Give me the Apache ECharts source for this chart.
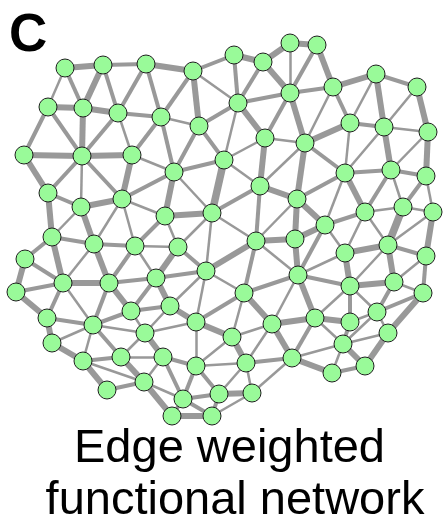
<!DOCTYPE html>
<html>
<head>
<meta charset="utf-8">
<script src="https://cdn.jsdelivr.net/npm/echarts@6/dist/echarts.min.js"></script>
<style>html,body{margin:0;padding:0;background:#fff}#c{width:443px;height:528px}</style>
</head>
<body>
<div id="c"></div>
<script>
// node names and pixel-space positions (x, y)
const nodeNames = ['A1','A2','A3','A4','A5','A6','A7','A8','A9','A10','A11',
 'B1','B2','B3','B4','B5','B6','B7','B8','B9','B10','B11','B12',
 'C1','C2','C3','C4','C5','C6','C7','C8','C9','C10',
 'D1','D2','D3','D4','D5','D6','D7','D8','D9',
 'E1','E2','E3','E4','E5','E6','E7','E8','E9',
 'F1','F2','F3','F4','F5','F6','F7','F8','F9','F10','F11',
 'G1','G2','G3','G4','G5','G6','G7','G8','G9','G10','G11','G12',
 'H1','H2','H3','H4','H5','H6','H7','H8','H9','H10',
 'I1','I2','I3','I4','I5','I6','I7'];
const nodeX = [65,103,146,193,234,263,290,317,333,376,417,
 48,83,118,161,199,238,290,350,384,428,265,305,
 24,82,132,174,224,260,297,345,391,426,
 48,81,122,165,212,365,403,433,325,
 52,94,135,178,256,295,388,345,426,
 25,63,109,16,156,206,298,350,394,423,244,
 47,93,131,145,170,196,232,272,315,350,377,388,
 52,83,121,163,196,246,292,343,332,365,
 107,144,183,219,252,172,212];
const nodeY = [68,65,64,71,55,62,43,45,87,74,87,
 107,108,113,117,126,103,93,123,127,132,138,143,
 155,156,155,172,160,186,199,173,170,176,
 193,207,199,216,213,212,207,212,225,
 237,244,246,247,241,239,245,253,256,
 259,283,283,292,278,271,275,286,282,293,293,
 318,325,311,333,306,322,337,324,318,322,312,333,
 343,361,357,357,366,363,358,344,373,366,
 390,382,399,394,393,416,416];
// edges: source, target, weight class (1 thin .. 4 very thick)
const edges = [
 ['A1','A2',3],['A2','A3',2],['A1','B1',1],['A1','B2',2],['A2','B2',3],['A2','B3',2],['A3','B3',2],['A3','A4',3],['A3','B4',2],
 ['B1','B2',3],['B2','B3',3],['B3','B4',2],['B1','C1',2],['B1','C2',2],['B2','C2',3],['B3','C2',2],['B3','C3',1],['C1','C2',3],['C2','C3',3],['C3','B4',2],
 ['A4','A5',2],['A5','A6',3],['A6','A7',3],['A5','B6',2],['A4','B5',3],['A4','B4',2],['A4','B6',1],['A6','B6',2],['A6','B7',3],['A7','B7',1],
 ['B6','B7',2],['B4','B5',1],['B5','B6',2],['B6','C5',1],['B6','B11',3],['B5','C5',2],['B5','C4',2],['B4','C4',2],['B11','C5',1],['B11','C6',3],['B11','B12',1],['B7','B11',2],['B7','B12',3],
 ['A7','A8',3],['A8','A9',3],['A8','B7',2],['A9','B7',2],['A9','A10',3],['A10','A11',2],['A11','B10',3],['A10','B9',3],['A10','B8',1],['A11','B9',1],
 ['A9','B8',2],['B8','B9',2],['B9','B10',1],['B8','B12',3],['A9','B12',1],['B12','C8',2],['B8','C8',1],['B9','C8',1],['B9','C9',3],['B10','C9',1],['B10','C10',3],['B12','C7',3],
 ['C1','D1',3],['C2','D1',2],['C2','D2',1],['C2','D3',2],['C3','D3',3],['D1','D2',2],['D2','D3',3],['D1','E1',3],['D2','E1',1],['D2','E2',3],['D3','E2',1],['D3','E3',1],
 ['D3','C4',2],['D3','D4',1],['C3','C4',1],['E1','E2',2],['E2','E3',2],['E1','F1',2],['E1','F2',3],['E2','F2',1],['E2','F3',3],['E3','F3',2],
 ['F1','F2',2],['F1','F4',3],['F2','F3',3],['F2','F4',2],['F3','F5',2],['E3','D4',2],['E3','F5',1],
 ['C4','C5',2],['C4','D4',3],['C4','D5',1],['C5','D5',4],['C5','C6',1],['C6','D5',2],['C6','C7',3],['C6','E5',2],['C6','B12',1],['D4','D5',3],['D4','E4',1],['D5','E4',1],
 ['D5','E5',1],['D5','F6',1],['E4','F5',3],['E4','F6',2],['E3','E4',1],['E5','E6',3],['E5','F6',3],['E5','F11',2],['E5','F7',1],['E5','C7',1],['F5','F6',2],['F6','F11',1],['F11','F7',2],
 ['C8','C9',2],['C9','C10',2],['C8','C7',2],['C8','D6',3],['C8','D9',1],['C9','D6',2],['C9','D7',1],['C10','D7',2],['C10','D8',1],['C7','D9',3],['C7','E6',3],
 ['D6','D9',2],['D6','D7',1],['D6','E7',1],['D6','E8',1],['D7','E7',4],['D7','D8',1],['D8','E7',1],['D8','E9',3],['D9','E6',3],['D9','E8',1],['D9','F7',2],
 ['E6','F7',3],['E7','E8',3],['E7','E9',2],['E7','F9',3],['E7','F8',1],['E8','F8',3],['E8','F7',1],['E9','F9',1],['E9','F10',2],['F7','F8',2],['F8','F9',3],['F7','G9',3],['F9','F10',1],
 ['F4','G1',3],['F2','G1',2],['F2','G2',1],['F3','G2',2],['F3','G3',3],['G1','G2',2],['G1','H1',3],['G2','H1',1],['G2','H2',1],['G2','H3',2],['G2','G3',2],['G2','G4',1],['G3','G4',1],
 ['H1','H2',3],['H2','H3',2],['H2','I1',3],['H2','I2',1],['H3','I2',3],['H3','G4',1],['I1','I2',2],['H3','H4',1],['G3','G5',2],['G3','F5',2],
 ['G5','F5',3],['G5','F6',1],['G5','G6',3],['G5','G4',1],['G6','F6',1],['F11','G6',2],['F11','G7',1],['F11','G8',3],['G6','G7',3],['G6','H5',1],['G6','G4',1],
 ['G7','H5',1],['G7','H6',3],['G7','G8',1],['G8','H6',1],['G8','H7',3],['G8','G9',3],['G4','H4',3],['H4','H5',2],['H4','I3',2],['H4','I2',1],['H5','H6',1],['H5','I3',2],['H5','I4',2],
 ['H6','I4',1],['H6','I5',1],['H6','H7',2],['H7','I5',1],['I3','I4',2],['I4','I5',3],['I3','I6',2],['I3','I7',2],['I4','I7',2],['I6','I7',3],['I2','I3',1],['I2','I6',3],['I5','I7',1],['F7','G8',1],
 ['F8','G10',2],['F8','G9',1],['G9','G10',3],['G9','H8',1],['G9','H7',2],['G10','G11',1],['G11','F9',2],['G11','F10',2],['G10','H8',2],['G11','H8',1],['G11','G12',1],['G12','F10',3],
 ['H8','G12',1],['H7','H8',1],['H7','H9',3],['H8','H9',1],['H8','H10',3],['H9','H10',2],['H10','G12',3],['F8','G11',1]
];
const panelLabel = 'C';
const titleLines = ['Edge weighted', 'functional network'];

const widthFor = [0, 2.5, 4, 6, 7.5];
const chart = echarts.init(document.getElementById('c'), null, {renderer: 'canvas'});
chart.setOption({
  animation: false,
  grid: {left: 0, right: 0, top: 0, bottom: 0},
  xAxis: {type: 'value', min: 0, max: 443, show: false},
  yAxis: {type: 'value', min: 0, max: 528, inverse: true, show: false},
  series: [{
    type: 'graph',
    coordinateSystem: 'cartesian2d',
    layout: 'none',
    symbol: 'circle',
    symbolSize: 18,
    silent: true,
    itemStyle: {color: '#99fa99', borderColor: '#1e1e1e', borderWidth: 1},
    lineStyle: {color: '#999999', opacity: 1, curveness: 0},
    data: nodeNames.map((n, i) => ({name: n, value: [nodeX[i], nodeY[i]]})),
    links: edges.map(e => ({source: e[0], target: e[1], lineStyle: {width: widthFor[e[2]]}}))
  }],
  graphic: [
    {type: 'text', left: 9, top: 10, style: {text: panelLabel, font: 'bold 53px "Liberation Sans", Arial, sans-serif', fill: '#000'}},
    {type: 'text', style: {text: titleLines[0], x: 229.5, y: 449, align: 'center', verticalAlign: 'middle', font: '47px "Liberation Sans", Arial, sans-serif', fill: '#000'}},
    {type: 'text', style: {text: titleLines[1], x: 235, y: 501, align: 'center', verticalAlign: 'middle', font: '47px "Liberation Sans", Arial, sans-serif', fill: '#000'}}
  ]
});
</script>
</body>
</html>
